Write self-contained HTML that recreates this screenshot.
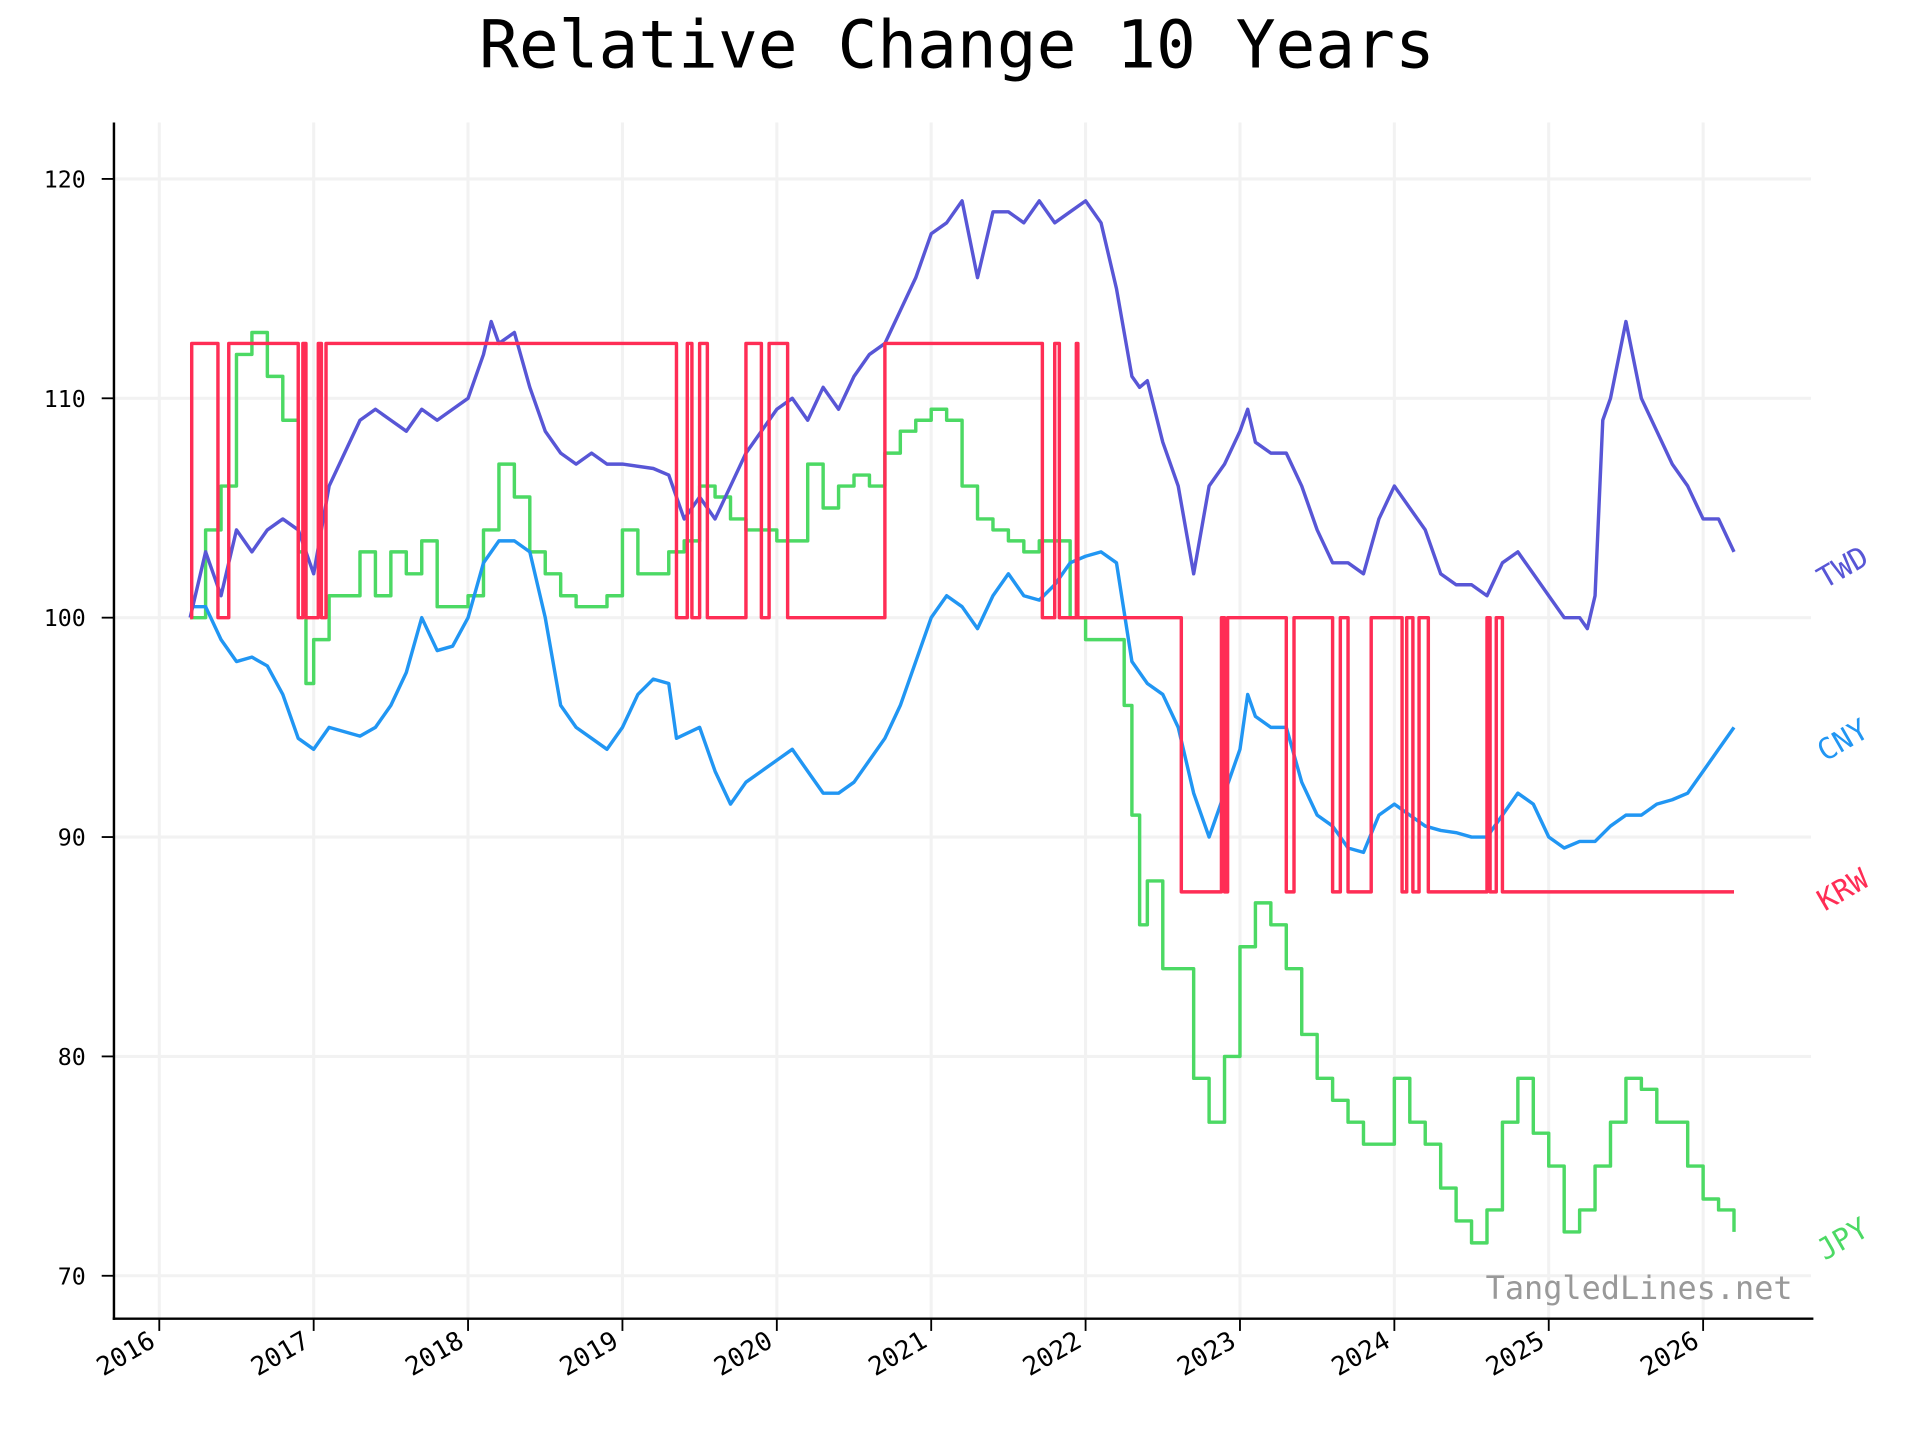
<!DOCTYPE html>
<html><head><meta charset="utf-8">
<style>html,body{margin:0;padding:0;background:#fff;}svg{display:block;}</style>
</head><body>
<svg id="chart" width="1920" height="1440" viewBox="0 0 1567 1175" preserveAspectRatio="none" xmlns="http://www.w3.org/2000/svg" font-family="'DejaVu Sans Mono','Liberation Mono',monospace">
<rect width="1567" height="1175" fill="#fff"/>
<text x="781" y="55" font-size="54" text-anchor="middle" fill="#000">Relative Change 10 Years</text>
<g id="grid"></g>
<g id="series"></g>
<g id="axes"></g>
<text x="1463" y="1060" font-size="26" text-anchor="end" fill="#999">TangledLines.net</text>
</svg>
<script>
const years=[2016,2017,2018,2019,2020,2021,2022,2023,2024,2025,2026];
const yTicks=[70,80,90,100,110,120];
const seriesNames=["TWD","CNY","KRW","JPY"];
const twdT=[2016.2,2016.3,2016.4,2016.5,2016.6,2016.7,2016.8,2016.9,2017.0,2017.1,2017.2,2017.3,2017.4,2017.5,2017.6,2017.7,2017.8,2017.9,2018.0,2018.1,2018.15,2018.2,2018.3,2018.4,2018.5,2018.6,2018.7,2018.8,2018.9,2019.0,2019.2,2019.3,2019.4,2019.5,2019.6,2019.7,2019.8,2019.9,2020.0,2020.1,2020.2,2020.3,2020.4,2020.5,2020.6,2020.7,2020.8,2020.9,2021.0,2021.1,2021.2,2021.3,2021.4,2021.5,2021.6,2021.7,2021.8,2021.9,2022.0,2022.1,2022.2,2022.3,2022.35,2022.4,2022.5,2022.6,2022.7,2022.8,2022.9,2023.0,2023.05,2023.1,2023.2,2023.3,2023.4,2023.5,2023.6,2023.7,2023.8,2023.9,2024.0,2024.1,2024.2,2024.3,2024.4,2024.5,2024.6,2024.7,2024.8,2024.9,2025.0,2025.1,2025.2,2025.25,2025.3,2025.35,2025.4,2025.5,2025.6,2025.7,2025.8,2025.9,2026.0,2026.1,2026.2];
const twdV=[100,103,101,104,103,104,104.5,104,102,106,107.5,109,109.5,109,108.5,109.5,109,109.5,110,112,113.5,112.5,113,110.5,108.5,107.5,107,107.5,107,107,106.8,106.5,104.5,105.5,104.5,106,107.5,108.5,109.5,110,109,110.5,109.5,111,112,112.5,114,115.5,117.5,118,119,115.5,118.5,118.5,118,119,118,118.5,119,118,115,111,110.5,110.8,108,106,102,106,107,108.5,109.5,108,107.5,107.5,106,104,102.5,102.5,102,104.5,106,105,104,102,101.5,101.5,101,102.5,103,102,101,100,100,99.5,101,109,110,113.5,110,108.5,107,106,104.5,104.5,103];
const cnyT=[2016.2,2016.3,2016.4,2016.5,2016.6,2016.7,2016.8,2016.9,2017.0,2017.1,2017.2,2017.3,2017.4,2017.5,2017.6,2017.7,2017.8,2017.9,2018.0,2018.1,2018.2,2018.3,2018.4,2018.5,2018.6,2018.7,2018.8,2018.9,2019.0,2019.1,2019.2,2019.3,2019.35,2019.5,2019.6,2019.7,2019.8,2019.9,2020.0,2020.1,2020.2,2020.3,2020.4,2020.5,2020.6,2020.7,2020.8,2020.9,2021.0,2021.1,2021.2,2021.3,2021.4,2021.5,2021.6,2021.7,2021.8,2021.9,2022.0,2022.1,2022.2,2022.3,2022.4,2022.5,2022.6,2022.7,2022.8,2022.9,2023.0,2023.05,2023.1,2023.2,2023.3,2023.4,2023.5,2023.6,2023.7,2023.8,2023.9,2024.0,2024.1,2024.2,2024.3,2024.4,2024.5,2024.6,2024.7,2024.8,2024.9,2025.0,2025.1,2025.2,2025.3,2025.4,2025.5,2025.6,2025.7,2025.8,2025.9,2026.0,2026.1,2026.2];
const cnyV=[100.5,100.5,99,98,98.2,97.8,96.5,94.5,94,95,94.8,94.6,95,96,97.5,100,98.5,98.7,100,102.5,103.5,103.5,103,100,96,95,94.5,94,95,96.5,97.2,97,94.5,95,93,91.5,92.5,93,93.5,94,93,92,92,92.5,93.5,94.5,96,98,100,101,100.5,99.5,101,102,101,100.8,101.5,102.5,102.8,103,102.5,98,97,96.5,95,92,90,92,94,96.5,95.5,95,95,92.5,91,90.5,89.5,89.3,91,91.5,91,90.5,90.3,90.2,90,90,91,92,91.5,90,89.5,89.8,89.8,90.5,91,91,91.5,91.7,92,93,94,95];
const jpyT=[2016.2,2016.3,2016.4,2016.5,2016.6,2016.7,2016.8,2016.9,2016.95,2017.0,2017.1,2017.2,2017.3,2017.4,2017.5,2017.6,2017.7,2017.8,2017.9,2018.0,2018.1,2018.2,2018.3,2018.4,2018.5,2018.6,2018.7,2018.8,2018.9,2019.0,2019.1,2019.2,2019.3,2019.4,2019.5,2019.6,2019.7,2019.8,2019.9,2020.0,2020.1,2020.2,2020.3,2020.4,2020.5,2020.6,2020.7,2020.8,2020.9,2021.0,2021.1,2021.2,2021.3,2021.4,2021.5,2021.6,2021.7,2021.8,2021.9,2022.0,2022.1,2022.2,2022.25,2022.3,2022.35,2022.4,2022.5,2022.6,2022.7,2022.8,2022.9,2023.0,2023.1,2023.2,2023.3,2023.4,2023.5,2023.6,2023.7,2023.8,2023.9,2024.0,2024.1,2024.2,2024.3,2024.4,2024.5,2024.6,2024.7,2024.8,2024.9,2025.0,2025.1,2025.2,2025.3,2025.4,2025.5,2025.6,2025.7,2025.8,2025.9,2026.0,2026.1,2026.2];
const jpyV=[100,104,106,112,113,111,109,103,97,99,101,101,103,101,103,102,103.5,100.5,100.5,101,104,107,105.5,103,102,101,100.5,100.5,101,104,102,102,103,103.5,106,105.5,104.5,104,104,103.5,103.5,107,105,106,106.5,106,107.5,108.5,109,109.5,109,106,104.5,104,103.5,103,103.5,103.5,100,99,99,99,96,91,86,88,84,84,79,77,80,85,87,86,84,81,79,78,77,76,76,79,77,76,74,72.5,71.5,73,77,79,76.5,75,72,73,75,77,79,78.5,77,77,75,73.5,73,72];
const krwT=[2016.2,2016.21,2016.38,2016.45,2016.9,2016.93,2016.95,2017.03,2017.05,2017.08,2019.35,2019.42,2019.45,2019.5,2019.55,2019.8,2019.9,2019.95,2020.07,2020.7,2021.72,2021.8,2021.83,2021.94,2021.95,2022.62,2022.88,2022.9,2022.92,2023.3,2023.35,2023.6,2023.65,2023.7,2023.85,2024.05,2024.08,2024.12,2024.16,2024.22,2024.6,2024.62,2024.66,2024.7,2026.2];
const krwV=[100,112.5,100,112.5,100,112.5,100,112.5,100,112.5,100,112.5,100,112.5,100,112.5,100,112.5,100,112.5,100,112.5,100,112.5,100,87.5,100,87.5,100,87.5,100,87.5,100,87.5,100,87.5,100,87.5,100,87.5,100,87.5,100,87.5,87.5];

const NS="http://www.w3.org/2000/svg";
const X0=130, XPY=126, Y120=146, YPU=17.9;
function xs(t){return X0+(t-2016)*XPY;}
function ys(v){return Y120+(120-v)*YPU;}
function mk(tag,attrs,parent){const e=document.createElementNS(NS,tag);for(const k in attrs)e.setAttribute(k,attrs[k]);parent.appendChild(e);return e;}
const grid=document.getElementById('grid'), axes=document.getElementById('axes'), ser=document.getElementById('series');
years.forEach(y=>{
  const g=mk('line',{x1:xs(y),x2:xs(y),y1:100,y2:1076,stroke:'#f2f2f2','stroke-width':2.5},grid);
  
  
  const tk=mk('line',{x1:xs(y),x2:xs(y),y1:1076,y2:1086,stroke:'#000','stroke-width':1.5},axes);
  
  
  const tx=mk('text',{x:xs(y)-2,y:1098,'font-size':21,'text-anchor':'end',transform:`rotate(-30 ${xs(y)-2} 1098)`,fill:'#000'},axes);
  tx.textContent=y;
  
  
});
yTicks.forEach(v=>{
  const g=mk('line',{x1:93,x2:1478,y1:ys(v),y2:ys(v),stroke:'#f2f2f2','stroke-width':2.5},grid);
  
  
  const tk=mk('line',{x1:83,x2:93,y1:ys(v),y2:ys(v),stroke:'#000','stroke-width':1.5},axes);
  
  
  const tx=mk('text',{x:70,y:ys(v)+7,'font-size':19,'text-anchor':'end',fill:'#000'},axes);
  tx.textContent=v;
  
  
});
const sp1=mk('line',{x1:93,x2:93,y1:100,y2:1077,stroke:'#000','stroke-width':2},axes);


const sp2=mk('line',{x1:92,x2:1480,y1:1076,y2:1076,stroke:'#000','stroke-width':2},axes);



function draw(T,V,color,step,name,label,ly){
  let d='';
  for(let i=0;i<T.length;i++){
    const x=xs(T[i]), y=ys(V[i]);
    if(i===0) d+=`M${x},${y}`;
    else if(step) d+=`H${x}V${y}`;
    else d+=`L${x},${y}`;
  }
  const p=mk('path',{d:d,fill:'none',stroke:color,'stroke-width':2.8,'stroke-linejoin':'round'},ser);
  
  
  const t=mk('text',{x:1508,y:ly,'font-size':24,'text-anchor':'middle',fill:color,transform:`rotate(-30 1508 ${ly})`},ser);
  t.textContent=label;
  
  
}
draw(jpyT,jpyV,'#4cd964',true,'jpy',seriesNames[3],1018);
draw(cnyT,cnyV,'#2196f3',false,'cny',seriesNames[1],611);
draw(twdT,twdV,'#5856d6',false,'twd',seriesNames[0],470);
draw(krwT,krwV,'#ff2d55',true,'krw',seriesNames[2],733);
</script>
</body></html>
